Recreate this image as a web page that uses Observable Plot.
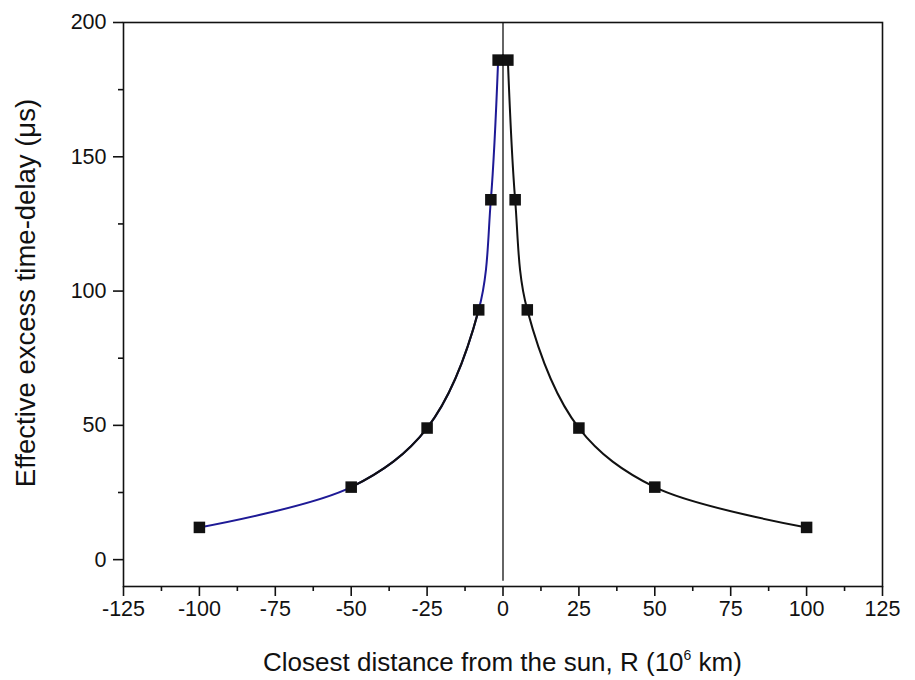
<!DOCTYPE html>
<html><head><meta charset="utf-8">
<script src="https://cdn.jsdelivr.net/npm/d3@7"></script>
<script src="https://cdn.jsdelivr.net/npm/@observablehq/plot@0.6"></script>
<style>
body{margin:0;background:#fff}
#chart svg{font-family:"Liberation Sans",Arial,sans-serif;background:#fff}
</style>
</head><body><div id="chart"></div>
<script>
// Data
const leftR = [-100, -50, -25, -8, -4, -1.6];
const leftDelay = [12, 27, 49, 93, 134, 186];
const rightR = [1.6, 4, 8, 25, 50, 100];
const rightDelay = [186, 134, 93, 49, 27, 12];
const blackSpan = [-50, -8];   // part of the left curve drawn in black
const xTicks = [-125, -100, -75, -50, -25, 0, 25, 50, 75, 100, 125];
const yTicks = [0, 50, 100, 150, 200];
const xMinor = [-112.5, -87.5, -62.5, -37.5, -12.5, 12.5, 37.5, 62.5, 87.5, 112.5];
const yMinor = [25, 75, 125, 175];

const left = leftR.map((r, i) => ({r, d: leftDelay[i]}));
const right = rightR.map((r, i) => ({r, d: rightDelay[i]}));
const all = left.concat(right);

const W = 915, H = 680, ML = 123, MR = 33, MT = 22, MB = 94;

const plot = Plot.plot({
  width: W, height: H,
  marginLeft: ML, marginRight: MR, marginTop: MT, marginBottom: MB,
  style: {fontFamily: "Liberation Sans, Arial, sans-serif", color: "#111"},
  x: {domain: [-125, 125]},
  y: {domain: [-10, 200]},
  marks: [
    Plot.ruleX([0], {y1: -8, y2: 200, stroke: "#111", strokeWidth: 1.3}),
    Plot.line(left, {x: "r", y: "d", stroke: "#1e1a96", strokeWidth: 2, curve: "catmull-rom"}),
    Plot.line(left, {x: "r", y: "d", stroke: "#111", strokeWidth: 2.1, curve: "catmull-rom", className: "blackpart"}),
    Plot.line(right, {x: "r", y: "d", stroke: "#111", strokeWidth: 2, curve: "catmull-rom"}),
    Plot.dot(all, {x: "r", y: "d", symbol: "square", r: 6.5, fill: "#111", stroke: "none"}),
    Plot.axisX({ticks: xTicks, tickSize: 10, tickPadding: 4, tickFormat: d => String(d), label: null, strokeWidth: 1.6}),
    Plot.axisX({ticks: xMinor, tickSize: 5, tickFormat: () => "", label: null, strokeWidth: 1.6}),
    Plot.axisY({ticks: yTicks, tickSize: 10, tickPadding: 7, tickFormat: d => String(d), label: null, strokeWidth: 1.6}),
    Plot.axisY({ticks: yMinor, tickSize: 5, tickFormat: () => "", label: null, strokeWidth: 1.6}),
    Plot.frame({stroke: "#111", strokeWidth: 1.6})
  ]
});

const svg = d3.select(plot);
// enlarge tick labels
svg.selectAll("text").style("font-size", "21.5px").attr("fill", "#111");

const xs = plot.scale("x");
// clip the black overlay to the span between -50 and -8
const x0 = xs.apply(blackSpan[0]), x1 = xs.apply(blackSpan[1]);
svg.append("defs").append("clipPath").attr("id", "blackclip")
  .append("rect").attr("x", x0).attr("y", 0).attr("width", x1 - x0).attr("height", H);
svg.select("g.blackpart").attr("clip-path", "url(#blackclip)");

const cx = ML + (W - ML - MR) / 2;
const xt = svg.append("text")
  .attr("x", cx).attr("y", 671)
  .attr("text-anchor", "middle")
  .style("font-size", "26px").attr("fill", "#111");
xt.append("tspan").text("Closest distance from the sun, R (10");
xt.append("tspan").style("font-size", "14px").attr("dy", -11).text("6");
xt.append("tspan").attr("dy", 11).text(" km)");

svg.append("text")
  .attr("transform", `translate(35, ${MT + (H - MT - MB) / 2 - 11}) rotate(-90)`)
  .attr("text-anchor", "middle")
  .style("font-size", "27.5px").attr("fill", "#111")
  .text("Effective excess time-delay (\u03bcs)");

document.getElementById("chart").appendChild(plot);
</script>
</body></html>
